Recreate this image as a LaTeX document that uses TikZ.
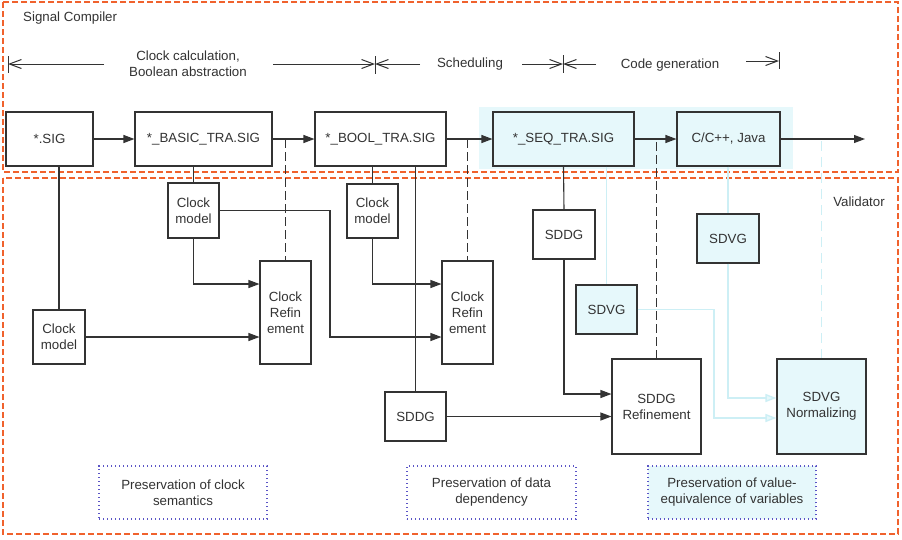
\documentclass[tikz,border=0pt]{standalone}
\usepackage{fontspec}
\setmainfont{Liberation Sans}
\usetikzlibrary{arrows.meta}
\definecolor{ink}{HTML}{333333}
\definecolor{orng}{HTML}{F0622D}
\definecolor{dotc}{HTML}{5B55C6}
\definecolor{cyfill}{HTML}{E6F8FB}
\definecolor{cyline}{HTML}{CDEFF5}
\begin{document}
\begin{tikzpicture}[x=1pt,y=-1pt,
  font=\fontsize{13.3}{16}\selectfont,
  box/.style={draw=ink, line width=1.1pt, text=ink, inner sep=0pt, align=center},
  cbox/.style={box, fill=cyfill},
  lbl/.style={text=ink, inner sep=0pt, align=center},
  arr/.style={draw=ink, line width=1.1pt, -{Triangle[length=11pt,width=8pt]}},
  plain/.style={draw=ink, line width=1.1pt},
  carr/.style={draw=cyline, line width=1.4pt, -{Triangle[length=11pt,width=8pt,open,fill=cyfill]}},
  cline/.style={draw=cyline, line width=1.4pt},
  bdash/.style={draw=ink, line width=1.1pt, dash pattern=on 9pt off 4pt},
  cdash/.style={draw=cyline, line width=1.6pt, dash pattern=on 10pt off 6pt},
  frame/.style={draw=orng, line width=1.1pt, dash pattern=on 6pt off 3pt},
  dotbox/.style={draw=dotc, line width=1.1pt, dash pattern=on 1.2pt off 2.8pt, text=ink, inner sep=0pt, align=center, minimum width=168pt, minimum height=53pt},
  dimarr/.style={draw=ink, line width=1pt, -{Straight Barb[length=12pt,width=9pt]}},
  bar/.style={draw=ink, line width=1pt}
]
\useasboundingbox (0,0) rectangle (902,539);
\fill[white] (0,0) rectangle (902,539);

% frames
\draw[frame] (3,2) rectangle (898,172);
\draw[frame] (3,178) rectangle (898,534);
\node[lbl, anchor=west] (sc) at (23,18) {Signal Compiler};
\node[lbl] (val) at (859,202) {Validator};

% dimension line
\node[lbl] (t1) at (188,64) {Clock calculation,\\Boolean abstraction};
\node[lbl] (t2) at (470,64) {Scheduling};
\node[lbl] (t3) at (670,65) {Code generation};
\coordinate (b1) at (8,64);
\coordinate (b2) at (375,64);
\coordinate (b3) at (563,64);
\coordinate (b4) at (779,61);
\draw[bar] (8,56) -- (8,73);
\draw[bar] (375,56) -- (375,74);
\draw[bar] (563,55) -- (563,73);
\draw[bar] (779,52) -- (779,69);
\draw[dimarr] (104,64) -- (b1);
\draw[dimarr] (273,64) -- (b2);
\draw[dimarr] (420,64) -- (b2);
\draw[dimarr] (522,64) -- (b3);
\draw[dimarr] (596,64) -- (b3);
\draw[dimarr] (746,61) -- (b4);

% cyan background
\fill[cyfill] (479,107) rectangle (793,169);

% main row
\node[box, minimum width=87pt, minimum height=54pt] (sig) at (49.5,139) {*.SIG};
\node[box, minimum width=137pt, minimum height=54pt] (basic) at (203.5,139) {*\_BASIC\_TRA.SIG};
\node[box, minimum width=131pt, minimum height=54pt] (bool) at (380.5,139) {*\_BOOL\_TRA.SIG};
\node[cbox, minimum width=141pt, minimum height=54pt] (seq) at (563.5,139) {*\_SEQ\_TRA.SIG};
\node[cbox, minimum width=103pt, minimum height=54pt] (cc) at (728.5,139) {C/C++, Java};
\coordinate (outp) at (865,139);
\draw[arr] (sig) -- (basic);
\draw[arr] (basic) -- (bool);
\draw[arr] (bool) -- (seq);
\draw[arr] (seq) -- (cc);
\draw[arr] (cc) -- (outp);

% validator nodes
\node[box, minimum width=51pt, minimum height=55pt] (cm1) at (193.5,210.5) {Clock\\model};
\node[box, minimum width=52pt, minimum height=54pt] (cm0) at (59,337) {Clock\\model};
\node[box, minimum width=51pt, minimum height=103pt] (cr1) at (285.5,312.5) {Clock\\Refin\\ement};
\node[box, minimum width=51pt, minimum height=54pt] (cm2) at (372.5,211) {Clock\\model};
\node[box, minimum width=51pt, minimum height=103pt] (cr2) at (467.5,312.5) {Clock\\Refin\\ement};
\node[box, minimum width=61pt, minimum height=49pt] (sddgL) at (415.5,416.5) {SDDG};
\node[box, minimum width=62pt, minimum height=49pt] (sddgU) at (564,234.5) {SDDG};
\node[cbox, minimum width=61pt, minimum height=49pt] (sdvgS) at (606.5,309.5) {SDVG};
\node[cbox, minimum width=62pt, minimum height=49pt] (sdvgU) at (728,238.5) {SDVG};
\node[box, minimum width=89pt, minimum height=95pt] (sddgR) at (656.5,406.5) {SDDG\\Refinement};
\node[cbox, minimum width=89pt, minimum height=95pt] (sdvgN) at (821.5,406.5) {SDVG\\Normalizing};

% vertical links from main row
\draw[plain] (sig.south -| cm0.north) -- (cm0.north);
\draw[plain] (basic.south -| cm1.north) -- (cm1.north);
\draw[plain] (bool.south -| cm2.north) -- (cm2.north);
\draw[plain] (bool.south -| sddgL.north) -- (sddgL.north);
\draw[plain] (seq.south) -- (sddgU.north);
\draw[cline] (seq.south -| sdvgS.north) -- (sdvgS.north);
\draw[cline] (cc.south -| sdvgU.north) -- (sdvgU.north);

% dashed links
\draw[bdash] (cr1.north |- sig.east) -- (cr1.north);
\draw[bdash] (cr2.north |- sig.east) -- (cr2.north);
\draw[bdash] ([yshift=-3pt]sddgR.north |- sig.east) -- (sddgR.north);
\draw[cdash] ([yshift=-2pt]sdvgN.north |- sig.east) -- (sdvgN.north);

% validator connectors
\coordinate (y284) at (0,284);
\coordinate (k1) at (330,337);
\coordinate (y394) at (0,394);
\coordinate (y398) at (0,398);
\coordinate (k2) at (714,418);
\draw[arr] (cm1.south) |- (cr1.west |- y284);
\draw[arr] (cm0.east) -- (cr1.west |- cm0.east);
\draw[arr] (cm1.east) -| (k1) -- (cr2.west |- k1);
\draw[arr] (cm2.south) |- (cr2.west |- y284);
\draw[arr] (sddgU.south) |- (sddgR.west |- y394);
\draw[arr] (sddgL.east) -- (sddgR.west |- sddgL.east);
\draw[carr] (sdvgU.south) |- (sdvgN.west |- y398);
\draw[carr] (sdvgS.east) -| (k2) -- (sdvgN.west |- k2);

% preservation boxes
\node[dotbox] (p1) at (183,492.5) {Preservation of clock\\semantics};
\node[dotbox, minimum width=169pt] (p2) at (491.5,492.5) {Preservation of data\\dependency};
\node[dotbox, fill=cyfill] (p3) at (732,492.5) {Preservation of value-\\equivalence of variables};
\end{tikzpicture}
\end{document}
